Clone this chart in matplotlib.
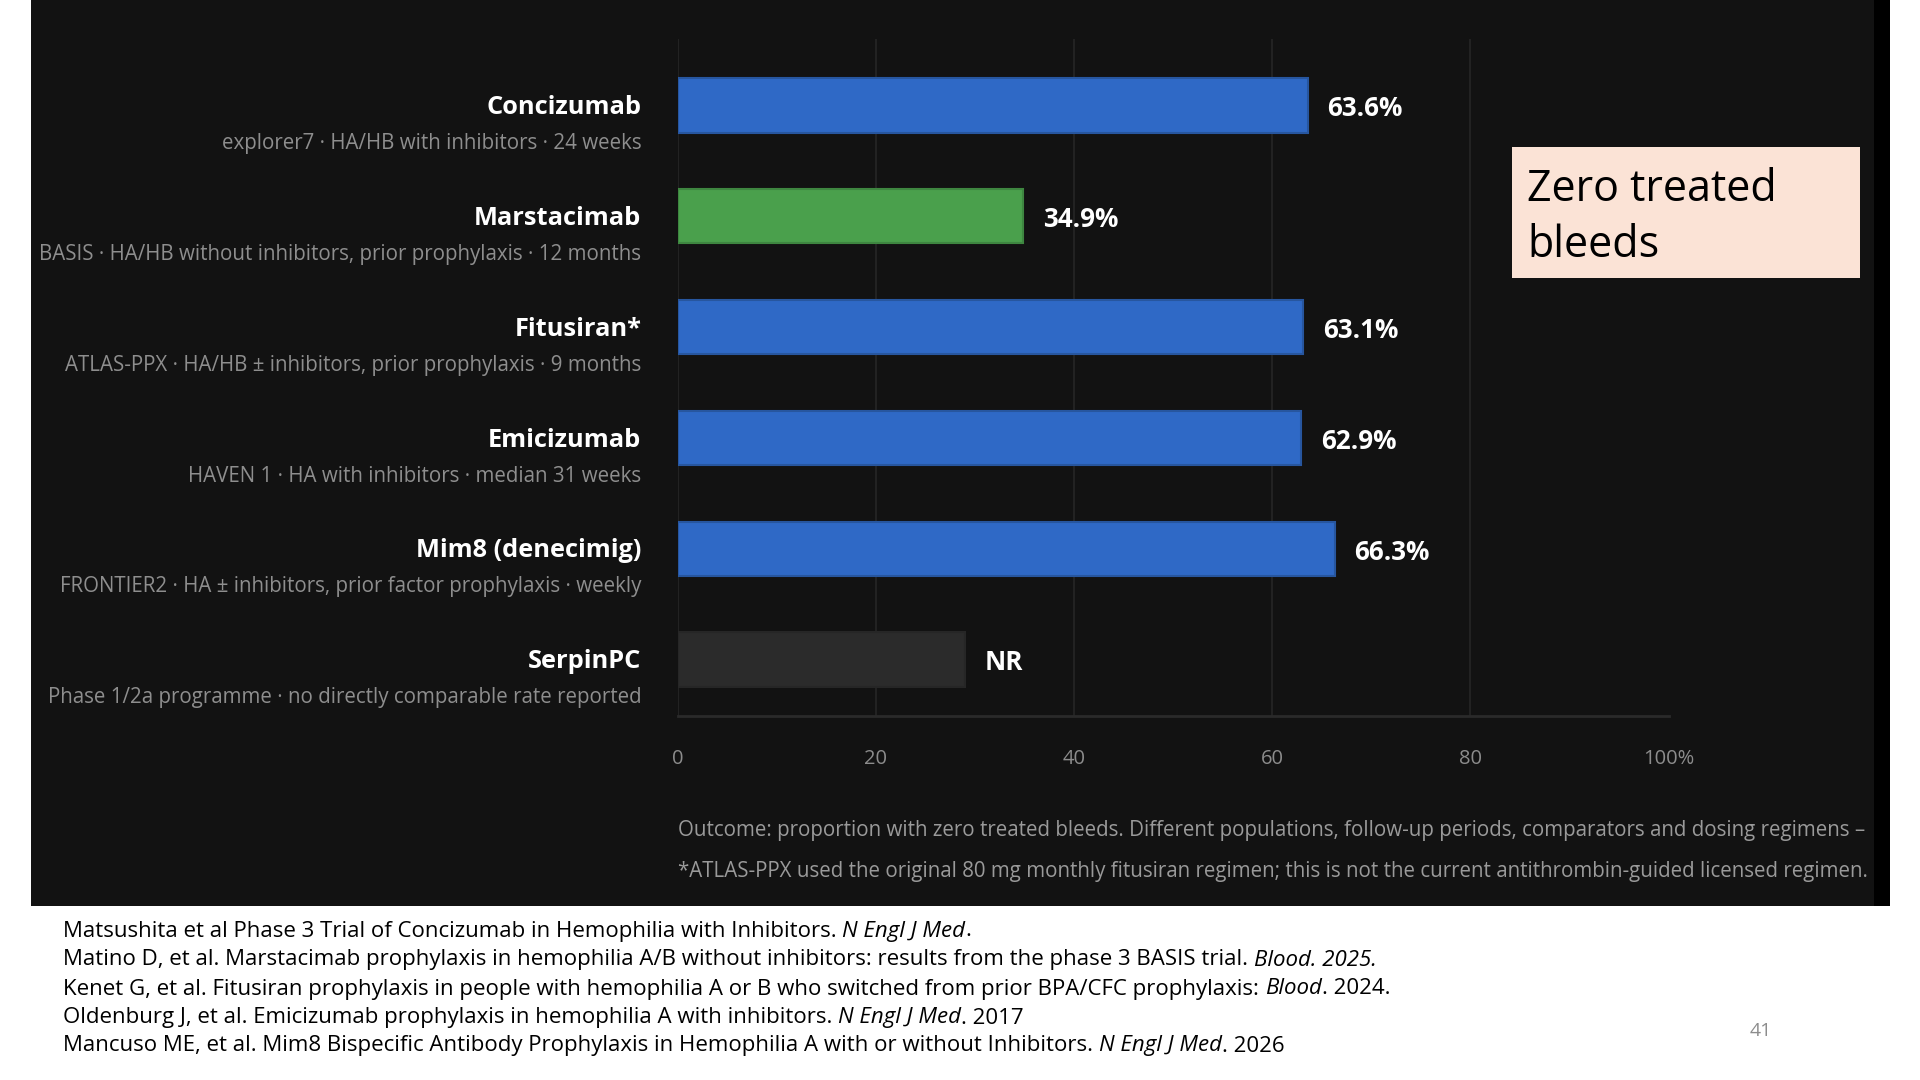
import matplotlib
matplotlib.use("Agg")
import matplotlib.pyplot as plt
from matplotlib.patches import Rectangle

plt.rcParams['font.family'] = ['Open Sans', 'DejaVu Sans']

# ---- data ----
drugs = ['Concizumab', 'Marstacimab', 'Fitusiran*', 'Emicizumab', 'Mim8 (denecimig)', 'SerpinPC']
trials = ['explorer7 · HA/HB with inhibitors · 24 weeks',
          'BASIS · HA/HB without inhibitors, prior prophylaxis · 12 months',
          'ATLAS-PPX · HA/HB ± inhibitors, prior prophylaxis · 9 months',
          'HAVEN 1 · HA with inhibitors · median 31 weeks',
          'FRONTIER2 · HA ± inhibitors, prior factor prophylaxis · weekly',
          'Phase 1/2a programme · no directly comparable rate reported']
zero_bleed_pct = [63.6, 34.9, 63.1, 62.9, 66.3, None]   # None = not reported
nr_placeholder = 29          # length of the grey "NR" bar
bar_colors = ['#2f69c6', '#4aa04c', '#2f69c6', '#2f69c6', '#2f69c6', '#2b2b2b']
edge_colors = ['#27569f', '#3e8640', '#27569f', '#27569f', '#27569f', '#262626']
x_ticks = [0, 20, 40, 60, 80, 100]
x_ticklabels = ['0', '20', '40', '60', '80', '100%']

notes = ['Outcome: proportion with zero treated bleeds. Different populations, follow-up periods, comparators and dosing regimens –',
         '*ATLAS-PPX used the original 80 mg monthly fitusiran regimen; this is not the current antithrombin-guided licensed regimen.']

refs = [
    [('Matsushita et al Phase 3 Trial of Concizumab in Hemophilia with Inhibitors. ', 'normal'), ('N Engl J Med', 'italic'), ('.', 'normal')],
    [('Matino D, et al. Marstacimab prophylaxis in hemophilia A/B without inhibitors: results from the phase 3 BASIS trial. ', 'normal'), ('Blood. 2025.', 'italic')],
    [('Kenet G, et al. Fitusiran prophylaxis in people with hemophilia A or B who switched from prior BPA/CFC prophylaxis: ', 'normal'), ('Blood', 'italic'), ('. 2024.', 'normal')],
    [('Oldenburg J, et al. Emicizumab prophylaxis in hemophilia A with inhibitors. ', 'normal'), ('N Engl J Med', 'italic'), ('. 2017', 'normal')],
    [('Mancuso ME, et al. Mim8 Bispecific Antibody Prophylaxis in Hemophilia A with or without Inhibitors. ', 'normal'), ('N Engl J Med', 'italic'), ('. 2026', 'normal')],
]
page_no = '41'

W, H = 1920, 1080
fig = plt.figure(figsize=(19.2, 10.8), dpi=100, facecolor='white')

# dark panel holding the chart screenshot
panel = Rectangle((31 / W, 1 - 906 / H), (1874 - 31) / W, 906 / H,
                  transform=fig.transFigure, facecolor='#121212', edgecolor='none', zorder=0)
fig.add_artist(panel)
fig.add_artist(Rectangle((1874 / W, 1 - 906 / H), 16 / W, 906 / H,
                         transform=fig.transFigure, facecolor='#000000', edgecolor='none', zorder=0))

ax = fig.add_axes([677.5 / W, 1 - 716 / H, (1668.5 - 677.5) / W, (716 - 39) / H])
ax.patch.set_alpha(0)

ypos = list(range(len(drugs)))
lengths = [v if v is not None else nr_placeholder for v in zero_bleed_pct]
ax.barh(ypos, lengths, height=0.49, color=bar_colors, edgecolor=edge_colors,
        linewidth=1.5, zorder=3)

for y, v, L in zip(ypos, zero_bleed_pct, lengths):
    lab = 'NR' if v is None else f'{v}%'
    ax.text(L + 2.0, y + 0.03, lab, color='white', fontsize=18.7, fontweight='bold',
            va='center', ha='left', zorder=4)

ytr = ax.get_yaxis_transform()
for y, name, sub in zip(ypos, drugs, trials):
    ax.text(-0.0365, y + 0.02, name, transform=ytr, ha='right', va='center', color='white',
            fontsize=18.3, fontweight='bold', clip_on=False)
    ax.text(-0.0365, y + 0.345, sub, transform=ytr, ha='right', va='center', color='#8e8e8e',
            fontsize=14.8, clip_on=False)

ax.set_xlim(0, 100)
ax.set_ylim(5.51, -0.6)
ax.set_xticks(x_ticks)
ax.set_xticklabels(x_ticklabels)
ax.set_yticks([])
ax.tick_params(axis='x', length=0, pad=24, colors='#8c8c8c', labelsize=14.5)
ax.grid(axis='x', color='#262626', linewidth=1.2, zorder=0)
for s in ['top', 'left', 'right']:
    ax.spines[s].set_visible(False)
ax.spines['bottom'].set_color('#2a2a2a')
ax.spines['bottom'].set_linewidth(2)

# notes under the chart, cut off by the panel edge
for yy, note in zip([830.5, 871.5], notes):
    t = fig.text(678 / W, 1 - yy / H, note, color='#9a9a9a', fontsize=14.8,
                 ha='left', va='center')
    t.set_clip_path(panel)

# "Zero treated bleeds" box
fig.add_artist(Rectangle((1512 / W, 1 - 278 / H), (1860 - 1512) / W, (278 - 147) / H,
                         transform=fig.transFigure, facecolor='#fbe3d6', edgecolor='none', zorder=2))
fig.text(1527 / W, 1 - 217.5 / H, 'Zero treated\nbleeds', color='black', fontsize=31,
         ha='left', va='center', linespacing=1.34, zorder=3)

# references with italic journal names
renderer = fig.canvas.get_renderer()
for yy, segs in zip([931, 960, 989, 1018, 1046], refs):
    x = 63 / W
    for txt, st in segs:
        t = fig.text(x, 1 - yy / H, txt, color='black', fontsize=16, style=st,
                     ha='left', va='center')
        x += t.get_window_extent(renderer).width / W

fig.text(1761 / W, 1 - 1031 / H, page_no, color='#8c8c8c', fontsize=14, ha='center', va='center')

fig.savefig('out.png', dpi=100, facecolor='white')
